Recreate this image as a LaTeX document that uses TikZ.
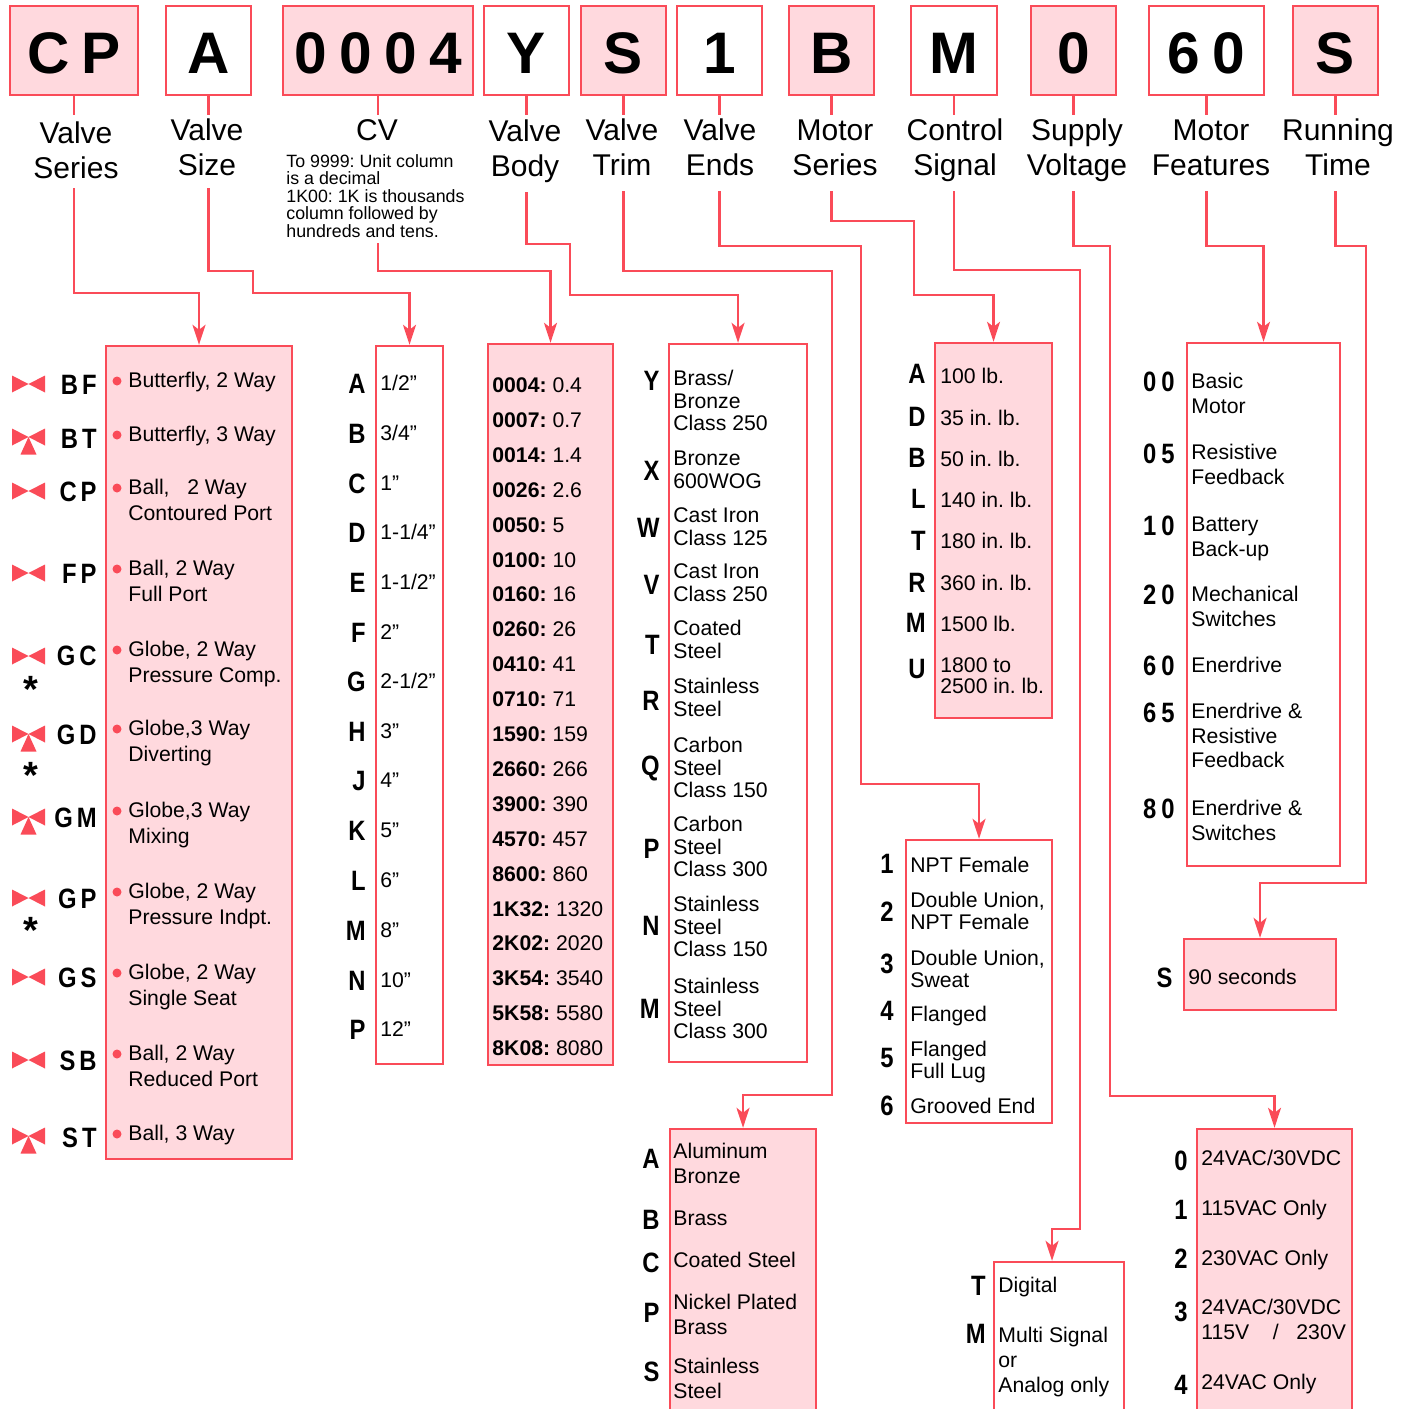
\documentclass[tikz,border=0pt]{standalone}
\usepackage{fontspec}
\setmainfont{Liberation Sans}
\newfontfamily\codefont[FakeStretch=0.85]{Liberation Sans}
\usetikzlibrary{arrows.meta,fit}
\definecolor{cr}{RGB}{250,75,88}
\definecolor{cpk}{RGB}{255,217,222}
\frenchspacing
\newcommand\ml[2][11.25pt]{\vtop{\baselineskip=#1\relax\lineskiplimit=-20pt\lineskip=0pt\let\\\cr\halign{##\hfil\cr#2\crcr}}}
\newcommand\mlc[2][17.75pt]{\vtop{\baselineskip=#1\relax\lineskiplimit=-20pt\lineskip=0pt\let\\\cr\halign{\hfil##\hfil\cr#2\crcr}}}
\newcommand\ent[7]{\node[code] (#1c) at (#2,#3) {#4}; \node[txt] (#1t) at (#5,#6) {#7};}
\newcommand\vtwo[3]{\fill[cr] (#2-16.5,#3-8.5) -- (#2-16.5,#3+8.5) -- (#2,#3) -- cycle (#2+16.5,#3-8.5) -- (#2+16.5,#3+8.5) -- (#2,#3) -- cycle;}
\newcommand\vthree[3]{\vtwo{#1}{#2}{#3}\fill[cr] (#2,#3) -- (#2-8,#3+17.5) -- (#2+8,#3+17.5) -- cycle;}
\begin{document}
\begin{tikzpicture}[x=0.5pt,y=-0.5pt,
 conn/.style={draw=cr, line width=1.1pt, -{Stealth[length=10pt,width=6.5pt,inset=2.5pt]}},
 stub/.style={draw=cr, line width=1.1pt},
 pbox/.style={draw=cr, line width=1.2pt, fill=cpk, inner sep=0pt},
 wbox/.style={draw=cr, line width=1.2pt, fill=white, inner sep=0pt},
 big/.style={font=\bfseries\fontsize{29.3}{30}\selectfont, inner sep=0pt, anchor=base},
 hdr/.style={font=\fontsize{15}{18}\selectfont, inner sep=1.5pt, anchor=base},
 note/.style={font=\fontsize{8.9}{8.75}\selectfont, inner sep=0pt, anchor=base west},
 txt/.style={font=\fontsize{10.6}{11}\selectfont, inner sep=0pt, anchor=base west, yshift=-3.75pt},
 code/.style={font=\codefont\bfseries\fontsize{14}{14}\selectfont, inner sep=0pt, anchor=base east, yshift=-5pt},
 bul/.style={circle, fill=cr, inner sep=0pt, minimum size=4.5pt},
 ast/.style={font=\bfseries\fontsize{19}{19}\selectfont, inner sep=0pt, anchor=base}]
\useasboundingbox (0,0) rectangle (1411,1408);
\clip (0,0) rectangle (1411,1408);
% ---------- top code boxes ----------
\node[pbox, fit={(10,6)(138,95)}] (c1) {};
\node[wbox, fit={(166,6)(251,95)}] (c2) {};
\node[pbox, fit={(283,6)(473,95)}] (c3) {};
\node[wbox, fit={(484,6)(569,95)}] (c4) {};
\node[pbox, fit={(581,6)(666,95)}] (c5) {};
\node[wbox, fit={(677,6)(762,95)}] (c6) {};
\node[pbox, fit={(789,6)(874,95)}] (c7) {};
\node[wbox, fit={(911,6)(997,95)}] (c8) {};
\node[pbox, fit={(1031,6)(1116,95)}] (c9) {};
\node[wbox, fit={(1149,6)(1264,95)}] (c10) {};
\node[pbox, fit={(1293,6)(1378,95)}] (c11) {};
\node[big] (k1) at (74,73) {C\hspace{6.2pt}P};
\node[big] (k2) at (208.5,73) {A};
\node[big] (k3) at (378,73) {0\hspace{6.2pt}0\hspace{6.2pt}0\hspace{6.2pt}4};
\node[big] (k4) at (526.5,73) {Y};
\node[big] (k5) at (623.5,73) {S};
\node[big] (k6) at (719.5,73) {1};
\node[big] (k7) at (831.5,73) {B};
\node[big] (k8) at (954,73) {M};
\node[big] (k9) at (1073.5,73) {0};
\node[big] (k10) at (1206.5,73) {6\hspace{6.2pt}0};
\node[big] (k11) at (1335.5,73) {S};
% ---------- header labels ----------
\node[hdr] (h1) at (76,143) {\mlc{Valve\\Series}};
\node[hdr] (h2) at (207,140) {\mlc{Valve\\Size}};
\node[hdr] (h3) at (377,140) {CV};
\node[hdr] (h4) at (525,141) {\mlc{Valve\\Body}};
\node[hdr] (h5) at (622,140) {\mlc{Valve\\Trim}};
\node[hdr] (h6) at (720,140) {\mlc{Valve\\Ends}};
\node[hdr] (h7) at (835,140) {\mlc{Motor\\Series}};
\node[hdr] (h8) at (955,140) {\mlc{Control\\Signal}};
\node[hdr] (h9) at (1077,140) {\mlc{Supply\\Voltage}};
\node[hdr] (h10) at (1211,140) {\mlc{Motor\\Features}};
\node[hdr] (h11) at (1338,140) {\mlc{Running\\Time}};
\node[note] (n3) at (286,167) {\ml[8.75pt]{To 9999: Unit column\\is a decimal\\1K00: 1K is thousands\\column followed by\\hundreds and tens.}};
% stubs
\foreach \i in {1,...,11} { \draw[stub] (c\i.south) -- (c\i.south |- 0,115); }
% ---------- list boxes ----------
\node[pbox, fit={(106,346)(292,1159)}] (b1) {};
\node[wbox, fit={(376,346)(443,1064)}] (b2) {};
\node[pbox, fit={(488,344)(613,1065)}] (b3) {};
\node[wbox, fit={(669,344)(807,1062)}] (b4) {};
\node[pbox, fit={(670,1129)(816,1440)}] (b5) {};
\node[wbox, fit={(906,840)(1052,1123)}] (b6) {};
\node[pbox, fit={(935,343)(1052,718)}] (b7) {};
\node[wbox, fit={(994,1262)(1124,1440)}] (b8) {};
\node[pbox, fit={(1197,1129)(1352,1440)}] (b9) {};
\node[wbox, fit={(1187,343)(1340,866)}] (b10) {};
\node[pbox, fit={(1184,939)(1336,1010)}] (b11) {};
% ---------- connectors ----------
\coordinate (d1) at (74,188);
\coordinate (d2) at (208.5,188);
\coordinate (d3) at (378,243);
\coordinate (d4) at (526.5,192);
\coordinate (d5) at (623.5,191);
\coordinate (d6) at (719.5,191);
\coordinate (d7) at (831.5,191);
\coordinate (d8) at (954,191);
\coordinate (d9) at (1073.5,191);
\coordinate (d10) at (1206.5,191);
\coordinate (d11) at (1335.5,191);
\coordinate (a8) at (1052,0);
\draw[conn] (d1) -- (74,293) -- (199,293) -- (b1.north);
\draw[conn] (d2) -- (208.5,271) -- (253,271) -- (253,293) -- (409.5,293) -- (b2.north);
\draw[conn] (d3) -- (378,271) -- (550.5,271) -- (b3.north);
\draw[conn] (d4) -- (526.5,244) -- (570,244) -- (570,295) -- (738,295) -- (b4.north);
\draw[conn] (d5) -- (623.5,271) -- (832,271) -- (832,1095) -- (743,1095) -- (b5.north);
\draw[conn] (d6) -- (719.5,246) -- (861,246) -- (861,784) -- (979,784) -- (b6.north);
\draw[conn] (d7) -- (831.5,221) -- (914,221) -- (914,295) -- (993.5,295) -- (b7.north);
\draw[conn] (d8) -- (954,270) -- (1080,270) -- (1080,1229) -- (1052,1229) -- (b8.north -| a8);
\draw[conn] (d9) -- (1073.5,246) -- (1110,246) -- (1110,1096) -- (1274.5,1096) -- (b9.north);
\draw[conn] (d10) -- (1206.5,246) -- (1263.5,246) -- (b10.north);
\draw[conn] (d11) -- (1335.5,246) -- (1366,246) -- (1366,883) -- (1260,883) -- (b11.north);
% ---------- valve series ----------
\vtwo{i1}{28.5}{384}
\vthree{i2}{28.5}{437}
\vtwo{i3}{28.5}{491}
\vtwo{i4}{28.5}{573}
\vtwo{i5}{28.5}{656}
\vthree{i6}{28.5}{734}
\vthree{i7}{28.5}{817}
\vtwo{i8}{28.5}{898}
\vtwo{i9}{28.5}{977}
\vtwo{i10}{28.5}{1060}
\vthree{i11}{28.5}{1136}
\node[ast] (x1) at (31,702) {*};
\node[ast] (x2) at (31,788) {*};
\node[ast] (x3) at (31,943) {*};
\ent{s1}{97}{384}{B\hspace{2pt}F}{128}{380}{Butterfly, 2 Way}
\ent{s2}{97}{438}{B\hspace{2pt}T}{128}{434}{Butterfly, 3 Way}
\ent{s3}{97}{491}{C\hspace{2pt}P}{128}{487}{\ml[13pt]{Ball,\ \ \ 2 Way\\Contoured Port}}
\ent{s4}{97}{573}{F\hspace{2pt}P}{128}{568}{\ml[13pt]{Ball, 2 Way\\Full Port}}
\ent{s5}{97}{655}{G\hspace{2pt}C}{128}{649}{\ml[13pt]{Globe, 2 Way\\Pressure Comp.}}
\ent{s6}{97}{734}{G\hspace{2pt}D}{128}{728}{\ml[13pt]{Globe,3 Way\\Diverting}}
\ent{s7}{97}{817}{G\hspace{2pt}M}{128}{810}{\ml[13pt]{Globe,3 Way\\Mixing}}
\ent{s8}{97}{898}{G\hspace{2pt}P}{128}{891}{\ml[13pt]{Globe, 2 Way\\Pressure Indpt.}}
\ent{s9}{97}{977}{G\hspace{2pt}S}{128}{972}{\ml[13pt]{Globe, 2 Way\\Single Seat}}
\ent{s10}{97}{1060}{S\hspace{2pt}B}{128}{1053}{\ml[13pt]{Ball, 2 Way\\Reduced Port}}
\ent{s11}{97}{1137}{S\hspace{2pt}T}{128}{1133}{Ball, 3 Way}
\foreach \y [count=\i] in {380,434,487,568,649,728,810,891,972,1053,1133} { \node[bul] (sb\i) at (117,\y+1) {}; }
% ---------- valve size ----------
\ent{z1}{366}{383}{A}{380}{383}{1/2”}
\ent{z2}{366}{433}{B}{380}{433}{3/4”}
\ent{z3}{366}{483}{C}{380}{483}{1”}
\ent{z4}{366}{532}{D}{380}{532}{1-1/4”}
\ent{z5}{366}{582}{E}{380}{582}{1-1/2”}
\ent{z6}{366}{632}{F}{380}{632}{2”}
\ent{z7}{366}{681}{G}{380}{681}{2-1/2”}
\ent{z8}{366}{731}{H}{380}{731}{3”}
\ent{z9}{366}{780}{J}{380}{780}{4”}
\ent{z10}{366}{830}{K}{380}{830}{5”}
\ent{z11}{366}{880}{L}{380}{880}{6”}
\ent{z12}{366}{930}{M}{380}{930}{8”}
\ent{z13}{366}{980}{N}{380}{980}{10”}
\ent{z14}{366}{1029}{P}{380}{1029}{12”}
% ---------- CV ----------
\foreach \a/\b [count=\i] in {0004/0.4,0007/0.7,0014/1.4,0026/2.6,0050/5,0100/10,0160/16,0260/26,0410/41,0710/71,1590/159,2660/266,3900/390,4570/457,8600/860,1K32/1320,2K02/2020,3K54/3540,5K58/5580,8K08/8080}
 { \node[txt] (v\i) at (492,{385+34.9*(\i-1)}) {\textbf{\a:} \b}; }
% ---------- valve body ----------
\ent{y1}{660}{380}{Y}{673}{378}{\ml{Brass/\\Bronze\\Class 250}}
\ent{y2}{660}{470}{X}{673}{458}{\ml{Bronze\\600WOG}}
\ent{y3}{660}{527}{W}{673}{515}{\ml{Cast Iron\\Class 125}}
\ent{y4}{660}{584}{V}{673}{571}{\ml{Cast Iron\\Class 250}}
\ent{y5}{660}{644}{T}{673}{628}{\ml{Coated\\Steel}}
\ent{y6}{660}{700}{R}{673}{686}{\ml{Stainless\\Steel}}
\ent{y7}{660}{765}{Q}{673}{745}{\ml{Carbon\\Steel\\Class 150}}
\ent{y8}{660}{848}{P}{673}{824}{\ml{Carbon\\Steel\\Class 300}}
\ent{y9}{660}{925}{N}{673}{904}{\ml{Stainless\\Steel\\Class 150}}
\ent{y10}{660}{1008}{M}{673}{986}{\ml{Stainless\\Steel\\Class 300}}
% ---------- valve trim ----------
\ent{t1}{660}{1158}{A}{673}{1151}{\ml[12.5pt]{Aluminum\\Bronze}}
\ent{t2}{660}{1219}{B}{673}{1218}{Brass}
\ent{t3}{660}{1262}{C}{673}{1260}{Coated Steel}
\ent{t4}{660}{1312}{P}{673}{1302}{\ml[12.5pt]{Nickel Plated\\Brass}}
\ent{t5}{660}{1371}{S}{673}{1366}{\ml[12.5pt]{Stainless\\Steel}}
% ---------- valve ends ----------
\ent{e1}{894}{863}{1}{910}{865}{NPT Female}
\ent{e2}{894}{911}{2}{910}{900}{\ml[11pt]{Double Union,\\NPT Female}}
\ent{e3}{894}{963}{3}{910}{958}{\ml[11pt]{Double Union,\\Sweat}}
\ent{e4}{894}{1010}{4}{910}{1014}{Flanged}
\ent{e5}{894}{1057}{5}{910}{1049}{\ml[11pt]{Flanged\\Full Lug}}
\ent{e6}{894}{1105}{6}{910}{1106}{Grooved End}
% ---------- motor series ----------
\ent{m1}{926}{373}{A}{940}{376}{100 lb.}
\ent{m2}{926}{416}{D}{940}{418}{35 in. lb.}
\ent{m3}{926}{457}{B}{940}{459}{50 in. lb.}
\ent{m4}{926}{498}{L}{940}{500}{140 in. lb.}
\ent{m5}{926}{540}{T}{940}{541}{180 in. lb.}
\ent{m6}{926}{582}{R}{940}{583}{360 in. lb.}
\ent{m7}{926}{622}{M}{940}{624}{1500 lb.}
\ent{m8}{926}{668}{U}{940}{665}{\ml[10.5pt]{1800 to\\2500 in. lb.}}
% ---------- control signal ----------
\ent{g1}{986}{1285}{T}{998}{1285}{Digital}
\ent{g2}{986}{1333}{M}{998}{1335}{\ml[12.5pt]{Multi Signal\\or\\Analog only}}
% ---------- supply voltage ----------
\ent{p1}{1188}{1160}{0}{1201}{1158}{24VAC/30VDC}
\ent{p2}{1188}{1209}{1}{1201}{1208}{115VAC Only}
\ent{p3}{1188}{1258}{2}{1201}{1258}{230VAC Only}
\ent{p4}{1188}{1311}{3}{1201}{1307}{\ml[12.5pt]{24VAC/30VDC\\115V\ \ \ \ /\ \ \ 230V}}
\ent{p5}{1188}{1384}{4}{1201}{1382}{24VAC Only}
% ---------- motor features ----------
\ent{f1}{1175}{381}{0\hspace{2.5pt}0}{1191}{381}{\ml[12.25pt]{Basic\\Motor}}
\ent{f2}{1175}{453}{0\hspace{2.5pt}5}{1191}{452}{\ml[12.25pt]{Resistive\\Feedback}}
\ent{f3}{1175}{525}{1\hspace{2.5pt}0}{1191}{524}{\ml[12.25pt]{Battery\\Back-up}}
\ent{f4}{1175}{594}{2\hspace{2.5pt}0}{1191}{594}{\ml[12.25pt]{Mechanical\\Switches}}
\ent{f5}{1175}{665}{6\hspace{2.5pt}0}{1191}{665}{Enerdrive}
\ent{f6}{1175}{712}{6\hspace{2.5pt}5}{1191}{711}{\ml[12.25pt]{Enerdrive \&\\Resistive\\Feedback}}
\ent{f7}{1175}{808}{8\hspace{2.5pt}0}{1191}{808}{\ml[12.25pt]{Enerdrive \&\\Switches}}
% ---------- running time ----------
\ent{r1}{1173}{977}{S}{1188}{977}{90 seconds}
\end{tikzpicture}
\end{document}
